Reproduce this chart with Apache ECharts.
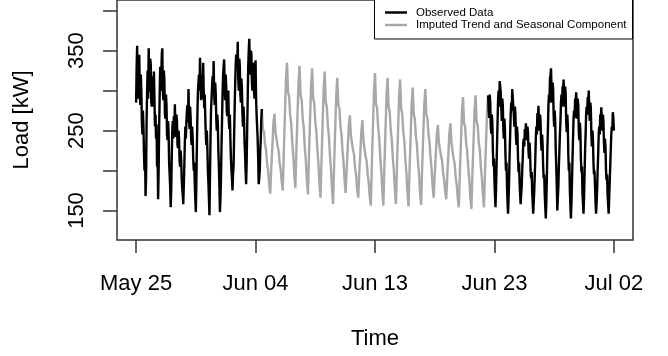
<!DOCTYPE html>
<html><head><meta charset="utf-8">
<script src="https://cdn.jsdelivr.net/npm/echarts@6/dist/echarts.min.js"></script>
<style>html,body{margin:0;padding:0;background:#fff}#c{width:668px;height:356px}</style>
</head><body><div id="c"></div>
<script>
// x positions are in days since May 25 00:00
const tickDays = [0, 9.5, 19, 28.5, 38];
const tickLabels = ['May 25', 'Jun 04', 'Jun 13', 'Jun 23', 'Jul 02'];
const yTicks = [150, 200, 250, 300, 350, 400];
const yLabels = [150, 250, 350];
const observedStepDays = 1 / 24;   // hourly observed load
const imputedStepDays = 2 / 24;    // imputed component read every 2 hours
const startObservedA = 0, startImputed = 10, startObservedB = 28;

const observedA = [
 285,330,356,290,305,340,345,300,282,320,298,262,245,275,255,222,200,228,168,190,260,300,325,290,
 353,315,298,340,332,285,280,318,305,280,324,290,255,270,240,258,205,222,164,200,255,295,330,300,
 318,345,353,300,288,325,312,270,265,295,282,245,238,262,248,210,195,180,154,175,215,250,262,240,
 268,250,283,255,242,270,262,232,228,250,240,212,205,225,214,190,178,170,158,180,205,235,255,240,
 262,275,282,260,302,265,252,280,268,240,232,255,240,215,200,210,182,165,148,185,230,270,300,310,
 320,300,341,310,288,320,305,290,335,300,278,295,268,245,232,250,228,200,185,165,144,190,240,275,
 290,305,318,300,337,295,282,310,296,265,250,270,258,225,205,180,148,165,190,230,262,295,318,330,
 339,310,288,320,306,275,268,295,300,262,252,270,238,215,200,190,175,195,205,240,275,305,330,345,
 345,330,361,315,300,340,330,295,285,315,302,270,255,280,265,235,220,200,183,210,250,290,330,350,
 365,335,320,350,347,310,300,335,330,300,290,325,338,290,270,255,240,215,183,190,200,225,240,265,
 277
];
const imputed = [
 277,252,249,233,226,209,200,182,171,203,229,258,
 271,248,246,231,225,209,201,185,175,225,269,313,
 335,298,293,270,259,236,219,195,178,226,268,310,
 331,294,288,265,253,229,212,187,170,219,263,306,
 328,290,285,261,249,226,209,183,166,215,259,302,
 324,285,280,256,243,219,202,176,158,207,251,294,
 316,282,278,256,246,225,210,187,172,203,228,256,
 269,244,242,226,220,203,194,176,166,197,222,250,
 263,237,235,218,212,195,185,167,156,208,254,299,
 322,283,278,254,241,217,200,174,156,206,250,294,
 316,279,274,251,239,216,200,175,158,207,250,293,
 314,277,271,248,237,213,197,172,155,202,242,284,
 304,270,265,243,233,211,196,173,157,203,242,282,
 302,270,266,246,236,216,202,180,166,195,219,245,
 257,235,233,218,213,197,189,173,164,195,219,247,
 259,234,232,215,209,192,182,165,154,197,235,273,
 292,259,255,234,224,203,189,167,152,197,235,275,
 294,261,257,236,226,205,191,169,154,198,236,275,
 294
];
const observedB = [
 294,275,266,295,285,255,246,270,260,225,205,215,188,170,154,175,205,235,262,290,300,280,312,305,
 298,280,262,290,282,250,240,265,252,220,200,210,180,160,146,165,190,220,245,270,285,275,302,290,
 292,270,255,280,272,245,232,255,245,215,198,210,185,170,158,170,180,200,215,235,240,230,252,245,
 259,245,238,255,248,225,215,235,222,200,190,198,175,160,146,160,175,195,215,240,255,245,272,265,
 281,260,250,270,262,235,225,245,232,205,190,195,170,155,140,160,190,225,250,280,295,285,315,320,
 328,300,285,310,302,270,255,275,262,225,205,180,150,165,180,205,225,245,262,285,295,280,305,300,
 314,295,280,305,295,260,248,270,258,220,200,210,175,155,140,160,185,215,240,265,275,265,290,285,
 298,280,265,290,282,250,238,260,250,215,198,205,172,160,146,165,195,225,245,270,280,270,292,285,
 300,275,262,285,278,245,230,250,240,210,195,200,180,160,146,160,175,200,220,245,255,245,270,265,
 279,260,250,270,262,235,222,240,230,200,188,195,170,158,146,165,185,205,225,245,255,250,273,265,
 250
];
const legendNames = ['Observed Data', 'Imputed Trend and Seasonal Component'];

function toPoints(values, start, step) { return values.map((v, i) => [start + i * step, v]); }

const FONT = 'Liberation Sans, Arial, sans-serif';
const chart = echarts.init(document.getElementById('c'), null, {renderer: 'canvas'});
const lineBase = {type: 'line', showSymbol: false, symbol: 'none', animation: false, silent: true};
chart.setOption({
  animation: false,
  grid: {left: 117, right: 35, top: -4, bottom: 116, show: true, borderColor: '#333', borderWidth: 1.5, backgroundColor: 'transparent'},
  xAxis: {
    type: 'value', min: -1.52, max: 39.52,
    axisLine: {show: false, onZero: false}, splitLine: {show: false},
    axisTick: {show: true, inside: false, customValues: tickDays, length: 13, lineStyle: {color: '#333', width: 1.5}},
    axisLabel: {customValues: tickDays, margin: 33, color: '#000', fontSize: 22, fontFamily: FONT,
      formatter: v => tickLabels[tickDays.indexOf(v)]},
    name: 'Time', nameLocation: 'middle', nameGap: 88,
    nameTextStyle: {color: '#000', fontSize: 22, fontFamily: FONT}
  },
  yAxis: {
    type: 'value', min: 113.08, max: 413.4,
    axisLine: {show: false, onZero: false}, splitLine: {show: false},
    axisTick: {show: true, inside: false, customValues: yTicks, length: 14, lineStyle: {color: '#333', width: 1.5}},
    axisLabel: {customValues: yLabels, rotate: 90, margin: 29, color: '#000', fontSize: 22, fontFamily: FONT},
    name: 'Load [kW]', nameLocation: 'middle', nameGap: 84, nameRotate: 90,
    nameTextStyle: {color: '#000', fontSize: 22, fontFamily: FONT}
  },
  series: [
    Object.assign({}, lineBase, {name: legendNames[1], data: toPoints(imputed, startImputed, imputedStepDays), lineStyle: {color: '#a8a8a8', width: 2.4}, itemStyle: {color: '#a8a8a8'}}),
    Object.assign({}, lineBase, {name: legendNames[0], data: toPoints(observedA, startObservedA, observedStepDays), lineStyle: {color: '#000', width: 2.4}, itemStyle: {color: '#000'}}),
    Object.assign({}, lineBase, {name: legendNames[0] + ' ', data: toPoints(observedB, startObservedB, observedStepDays), lineStyle: {color: '#000', width: 2.4}, itemStyle: {color: '#000'}})
  ],
  graphic: [
    {type: 'rect', z: 100, shape: {x: 374.5, y: -10, width: 258, height: 49}, style: {fill: '#fff', stroke: '#000', lineWidth: 1}},
    {type: 'line', z: 101, shape: {x1: 385, y1: 12.5, x2: 407, y2: 12.5}, style: {stroke: '#000', lineWidth: 2.5}},
    {type: 'line', z: 101, shape: {x1: 385, y1: 25, x2: 407, y2: 25}, style: {stroke: '#a8a8a8', lineWidth: 2.5}},
    {type: 'text', z: 101, style: {x: 416, y: 12.5, text: legendNames[0], fontSize: 11.5, fontFamily: FONT, fill: '#000', verticalAlign: 'middle'}},
    {type: 'text', z: 101, style: {x: 416, y: 25, text: legendNames[1], fontSize: 11.5, fontFamily: FONT, fill: '#000', verticalAlign: 'middle'}}
  ]
});
</script></body></html>
